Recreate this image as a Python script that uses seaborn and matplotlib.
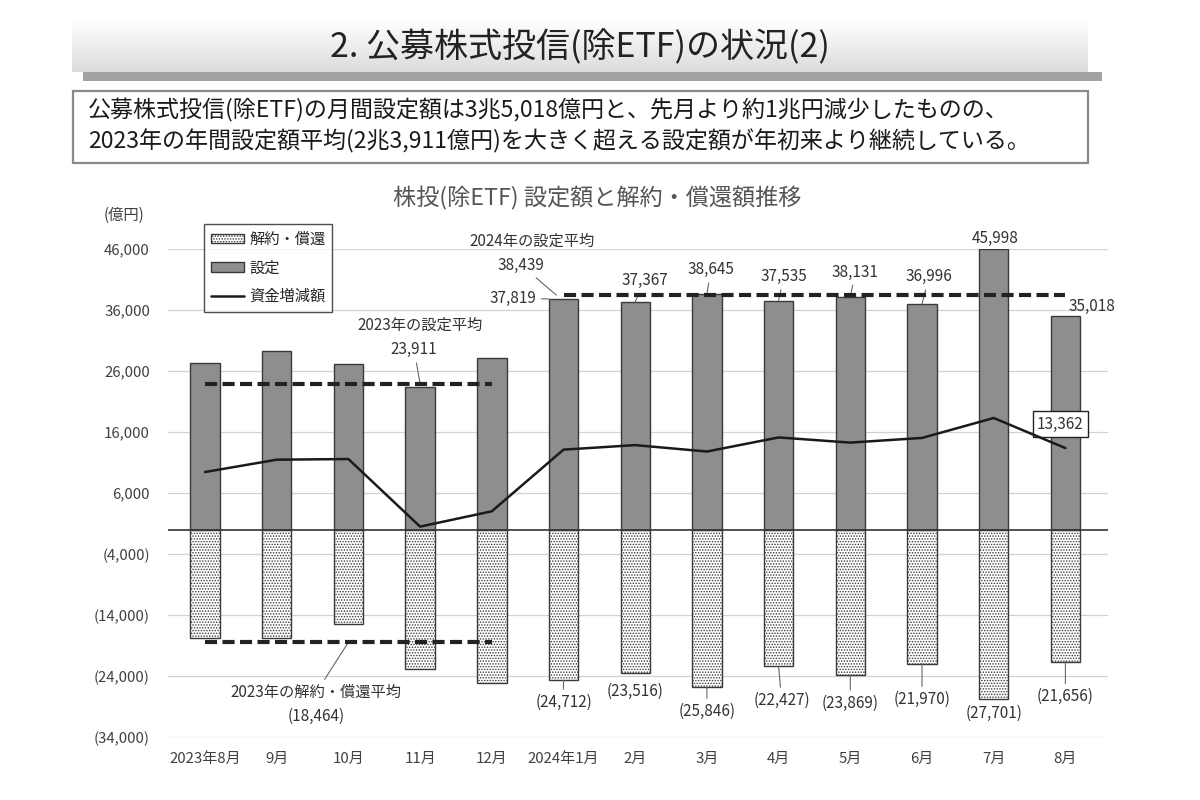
import matplotlib
matplotlib.use("Agg")
import matplotlib.pyplot as plt
import matplotlib.patches as mpatches
from matplotlib.lines import Line2D
from matplotlib.ticker import FuncFormatter
import numpy as np
import seaborn as sns

months = ["2023年8月", "9月", "10月", "11月", "12月", "2024年1月", "2月",
          "3月", "4月", "5月", "6月", "7月", "8月"]
setting = [27240, 29260, 27080, 23310, 28120, 37819, 37367,
           38645, 37535, 38131, 36996, 45998, 35018]
redemption = [-17800, -17800, -15510, -22820, -25120, -24712, -23516,
              -25846, -22427, -23869, -21970, -27701, -21656]
net = [9440, 11460, 11570, 490, 3000, 13107, 13851,
       12799, 15108, 14262, 15026, 18297, 13362]

avg_set_2023 = 23911
avg_red_2023 = -18464
avg_set_2024 = 38439

yticks = [-34000, -24000, -14000, -4000, 6000, 16000, 26000, 36000, 46000]

sns.set_style("white")
plt.rcParams["font.family"] = ["Noto Sans CJK JP", "DejaVu Sans"]
plt.rcParams["hatch.linewidth"] = 0.7

fig = plt.figure(figsize=(12, 8), dpi=100)

# header banner
W, H = 1200, 800
def fx(px):
    return px / W
def fy(py):
    return 1 - py / H

fig.add_artist(mpatches.Rectangle((fx(83), fy(81)), fx(1102) - fx(83), fy(72) - fy(81),
                                  transform=fig.transFigure, color="#a3a3a3", lw=0))
bax = fig.add_axes([fx(72), fy(72), fx(1088) - fx(72), fy(22) - fy(72)])
grad = np.linspace(0.99, 0.86, 50).reshape(-1, 1) * np.ones((1, 10))
bax.imshow(grad, aspect="auto", cmap="gray", vmin=0, vmax=1, extent=(0, 1, 0, 1))
bax.axis("off")
fig.text(fx(580), fy(48), "2. 公募株式投信(除ETF)の状況(2)", ha="center", va="center",
         fontsize=24.5, color="#222222")

fig.add_artist(mpatches.Rectangle((fx(73), fy(163)), fx(1088) - fx(73), fy(91) - fy(163),
                                  transform=fig.transFigure, facecolor="white",
                                  edgecolor="#8a8a8a", lw=1.6))
fig.text(fx(88), fy(110), "公募株式投信(除ETF)の月間設定額は3兆5,018億円と、先月より約1兆円減少したものの、",
         ha="left", va="center", fontsize=16.6, color="#1a1a1a")
fig.text(fx(88), fy(141), "2023年の年間設定額平均(2兆3,911億円)を大きく超える設定額が年初来より継続している。",
         ha="left", va="center", fontsize=16.6, color="#1a1a1a")

fig.text(fx(597), fy(198), "株投(除ETF) 設定額と解約・償還額推移", ha="center", va="center",
         fontsize=16.7, color="#555555")
fig.text(fx(124), fy(215), "(億円)", ha="center", va="center", fontsize=11, color="#404040")

# chart
ax = fig.add_axes([fx(168), fy(737), fx(1108) - fx(168), fy(249) - fy(737)])

sns.barplot(x=months, y=setting, color="#8e8e8e", saturation=1, width=0.41,
            edgecolor="#3a3a3a", linewidth=1, errorbar=None, ax=ax, zorder=3)
sns.barplot(x=months, y=redemption, color="white", saturation=1, width=0.41,
            edgecolor="#3a3a3a", linewidth=1, hatch="......", errorbar=None, ax=ax, zorder=3)
sns.lineplot(x=months, y=net, sort=False, color="#1a1a1a", lw=1.8, ax=ax, zorder=5)

ax.axhline(0, color="#333333", lw=1.2, zorder=4)
dash = (0, (2.9, 1.3))
ax.hlines(avg_set_2023, 0, 4, colors="#222222", lw=3, linestyles=[dash], zorder=6)
ax.hlines(avg_red_2023, 0, 4, colors="#222222", lw=3, linestyles=[dash], zorder=6)
ax.hlines(avg_set_2024, 5, 12, colors="#222222", lw=3, linestyles=[dash], zorder=6)

ax.set_ylim(-34000, 46000)
ax.set_xlim(-0.516, 12.594)
ax.set_yticks(yticks)
ax.yaxis.set_major_formatter(FuncFormatter(
    lambda v, p: f"({abs(v):,.0f})" if v < 0 else f"{v:,.0f}"))
ax.grid(axis="y", color="#d2d2d2", lw=0.9, zorder=0)
ax.grid(axis="x", visible=False)
ax.set_axisbelow(True)
for s in ax.spines.values():
    s.set_visible(False)
ax.tick_params(axis="both", length=0, labelsize=10.8, colors="#404040")
ax.tick_params(axis="y", pad=13)
ax.tick_params(axis="x", pad=11)
ax.set_xlabel("")
ax.set_ylabel("")

lead = dict(arrowstyle="-", color="#666666", lw=0.8, shrinkA=1, shrinkB=0)
lbl = dict(textcoords="offset pixels", ha="center", va="center", fontsize=11,
           color="#333333", annotation_clip=False)

# set value labels (2024)
ax.annotate(f"{setting[5]:,}", xy=(5 - 0.205, setting[5]), xytext=(-12, 0),
            arrowprops=lead, **{**lbl, "ha": "right"})
set_off = {6: (10, 21), 7: (4, 24), 8: (5, 24), 9: (5, 25), 10: (7, 27), 11: (1, 11), 12: (27, 10)}
for i, (dx, dy) in set_off.items():
    ap = lead if i < 11 else None
    ax.annotate(f"{setting[i]:,}", xy=(i, setting[i]), xytext=(dx, dy), arrowprops=ap, **lbl)

red_off = {5: (0, -22), 6: (0, -18), 7: (0, -24), 8: (3, -34), 9: (0, -28),
           10: (0, -36), 11: (0, -15), 12: (0, -35)}
for i, (dx, dy) in red_off.items():
    ap = lead if i not in (6, 11) else None
    ax.annotate(f"({abs(redemption[i]):,})", xy=(i, redemption[i]), xytext=(dx, dy),
                arrowprops=ap, **lbl)

# averages
ax.annotate("2024年の設定平均", xy=(5, avg_set_2024), xytext=(-31, 54), **lbl)
ax.annotate(f"{avg_set_2024:,}", xy=(5 - 0.1, avg_set_2024), xytext=(-35, 30), arrowprops=lead, **lbl)
ax.annotate("2023年の設定平均", xy=(3, avg_set_2023), xytext=(0, 59), **lbl)
ax.annotate(f"{avg_set_2023:,}", xy=(3, avg_set_2023), xytext=(-6, 34), arrowprops=lead, **lbl)
ax.annotate("2023年の解約・償還平均", xy=(2, avg_red_2023), xytext=(-32, -50), arrowprops=lead, **lbl)
ax.annotate(f"({abs(avg_red_2023):,})", xy=(2, avg_red_2023), xytext=(-32, -74), **lbl)

ax.annotate(f"{net[12]:,}", xy=(12, net[12]), xytext=(-5, 24),
            bbox=dict(boxstyle="square,pad=0.3", fc="white", ec="#222222", lw=1), **lbl)

handles = [
    mpatches.Patch(facecolor="white", edgecolor="#3a3a3a", hatch="......", label="解約・償還"),
    mpatches.Patch(facecolor="#8e8e8e", edgecolor="#3a3a3a", label="設定"),
    Line2D([0], [0], color="#1a1a1a", lw=1.8, label="資金増減額"),
]
leg = ax.legend(handles=handles, loc="upper left", bbox_to_anchor=(fx(204), fy(224)),
                bbox_transform=fig.transFigure, fontsize=11, frameon=True, fancybox=False,
                edgecolor="#222222", handlelength=2.2, handleheight=0.55, labelspacing=0.75,
                borderpad=0.45, handletextpad=0.3, borderaxespad=0)
leg.get_frame().set_linewidth(1.0)
leg.set_zorder(10)

fig.savefig("out.png", dpi=100, facecolor="white")
